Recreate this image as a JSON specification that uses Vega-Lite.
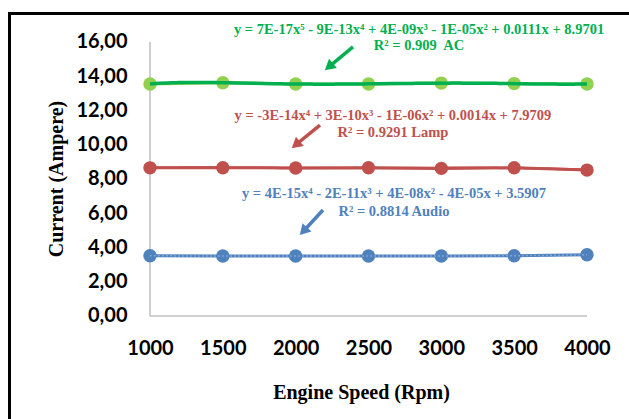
{
  "$schema": "https://vega.github.io/schema/vega-lite/v6.json",
  "width": 624.5,
  "height": 410.5,
  "autosize": {"type": "none"},
  "padding": {"left": 9.5, "top": 13.5, "right": -5, "bottom": -5},
  "background": "white",
  "config": {"view": {"stroke": "black", "strokeWidth": 3}},
  "datasets": {
    "series": [
      {"rpm": 1000, "current": 13.55, "load": "AC"},
      {"rpm": 1500, "current": 13.62, "load": "AC"},
      {"rpm": 2000, "current": 13.55, "load": "AC"},
      {"rpm": 2500, "current": 13.55, "load": "AC"},
      {"rpm": 3000, "current": 13.6, "load": "AC"},
      {"rpm": 3500, "current": 13.57, "load": "AC"},
      {"rpm": 4000, "current": 13.55, "load": "AC"},
      {"rpm": 1000, "current": 8.65, "load": "Lamp"},
      {"rpm": 1500, "current": 8.66, "load": "Lamp"},
      {"rpm": 2000, "current": 8.64, "load": "Lamp"},
      {"rpm": 2500, "current": 8.66, "load": "Lamp"},
      {"rpm": 3000, "current": 8.62, "load": "Lamp"},
      {"rpm": 3500, "current": 8.66, "load": "Lamp"},
      {"rpm": 4000, "current": 8.52, "load": "Lamp"},
      {"rpm": 1000, "current": 3.52, "load": "Audio"},
      {"rpm": 1500, "current": 3.5, "load": "Audio"},
      {"rpm": 2000, "current": 3.5, "load": "Audio"},
      {"rpm": 2500, "current": 3.5, "load": "Audio"},
      {"rpm": 3000, "current": 3.5, "load": "Audio"},
      {"rpm": 3500, "current": 3.52, "load": "Audio"},
      {"rpm": 4000, "current": 3.58, "load": "Audio"}
    ],
    "labels": [
      {"series": "AC fit", "x": 2847, "y": 16.7, "text": "y = 7E-17x⁵ - 9E-13x⁴ + 4E-09x³ - 1E-05x² + 0.0111x + 8.9701"},
      {"series": "AC fit", "x": 2847, "y": 15.77, "text": "R² = 0.909\u00a0 AC"},
      {"series": "Lamp", "x": 2668, "y": 11.68, "text": "y = -3E-14x⁴ + 3E-10x³ - 1E-06x² + 0.0014x + 7.9709"},
      {"series": "Lamp", "x": 2668, "y": 10.69, "text": "R² = 0.9291 Lamp"},
      {"series": "Audio", "x": 2675, "y": 7.12, "text": "y = 4E-15x⁴ - 2E-11x³ + 4E-08x² - 4E-05x + 3.5907"},
      {"series": "Audio", "x": 2675, "y": 6.07, "text": "R² = 0.8814 Audio"}
    ],
    "arrows": [
      {"series": "AC fit", "x": 2393.6, "y": 15.71, "x2": 2228, "y2": 14.55},
      {"series": "Lamp", "x": 2167, "y": 11.15, "x2": 2001, "y2": 10.0},
      {"series": "Audio", "x": 2187.6, "y": 6.19, "x2": 2053, "y2": 4.95}
    ]
  },
  "layer": [
    {
      "data": {"values": [{}]},
      "mark": {"type": "rule", "color": "#BFBFBF", "strokeWidth": 1.5},
      "encoding": {
        "x": {"datum": 1000, "type": "quantitative", "scale": {"domain": [35.5, 4322.7], "nice": false, "zero": false}},
        "y": {"datum": 0, "type": "quantitative", "scale": {"domain": [-6.307, 17.664], "nice": false, "zero": false}},
        "y2": {"datum": 16}
      }
    },
    {
      "data": {"values": [{}]},
      "mark": {"type": "rule", "color": "#BFBFBF", "strokeWidth": 1.5},
      "encoding": {
        "x": {"datum": 1000, "type": "quantitative"},
        "x2": {"datum": 4000},
        "y": {"datum": 0, "type": "quantitative"}
      }
    },
    {
      "data": {"name": "series"},
      "mark": {"type": "line", "strokeWidth": 3},
      "encoding": {
        "x": {
          "field": "rpm", "type": "quantitative",
          "scale": {"domain": [35.5, 4322.7], "nice": false, "zero": false},
          "axis": {
            "values": [1000, 1500, 2000, 2500, 3000, 3500, 4000],
            "format": "d",
            "offset": -108,
            "domain": false, "ticks": false, "grid": false,
            "labelFont": "Lato", "labelFontWeight": "bold", "labelFontSize": 20, "labelColor": "black",
            "labelPadding": 22,
            "title": "Engine Speed (Rpm)",
            "titleFont": "Liberation Serif", "titleFontWeight": "bold", "titleFontSize": 20, "titleColor": "black",
            "titlePadding": 24,
            "titleX": 351.5
          }
        },
        "y": {
          "field": "current", "type": "quantitative",
          "scale": {"domain": [-6.307, 17.664], "nice": false, "zero": false},
          "axis": {
            "values": [0, 2, 4, 6, 8, 10, 12, 14, 16],
            "labelExpr": "replace(format(datum.value, '.2f'), '.', ',')",
            "offset": -140.5,
            "domain": false, "ticks": false, "grid": false,
            "labelFont": "Lato", "labelFontWeight": "bold", "labelFontSize": 20, "labelColor": "black",
            "labelPadding": 23,
            "title": "Current (Ampere)",
            "titleFont": "Liberation Serif", "titleFontWeight": "bold", "titleFontSize": 20, "titleColor": "black",
            "titlePadding": 9,
            "titleY": 165
          }
        },
        "color": {
          "field": "load", "type": "nominal",
          "scale": {"domain": ["AC", "Lamp", "Audio", "AC fit"], "range": ["#92D050", "#C0504D", "#4F81BD", "#00B050"]},
          "legend": null
        },
        "detail": {"field": "load"}
      }
    },
    {
      "data": {"name": "series"},
      "mark": {"type": "point", "shape": "circle", "filled": true, "opacity": 1, "size": 180},
      "encoding": {
        "x": {"field": "rpm", "type": "quantitative"},
        "y": {"field": "current", "type": "quantitative"},
        "color": {"field": "load", "type": "nominal", "legend": null}
      }
    },
    {
      "data": {"name": "series"},
      "transform": [
        {"filter": "datum.load == 'AC'"},
        {"regression": "current", "on": "rpm", "method": "poly", "order": 5}
      ],
      "mark": {"type": "line", "color": "#00B050", "strokeWidth": 3.5},
      "encoding": {
        "x": {"field": "rpm", "type": "quantitative"},
        "y": {"field": "current", "type": "quantitative"}
      }
    },
    {
      "data": {"name": "series"},
      "transform": [
        {"filter": "datum.load == 'Lamp'"},
        {"regression": "current", "on": "rpm", "method": "poly", "order": 4}
      ],
      "mark": {"type": "line", "color": "#C0504D", "strokeWidth": 2.5},
      "encoding": {
        "x": {"field": "rpm", "type": "quantitative"},
        "y": {"field": "current", "type": "quantitative"}
      }
    },
    {
      "data": {"name": "series"},
      "transform": [
        {"filter": "datum.load == 'Audio'"},
        {"regression": "current", "on": "rpm", "method": "poly", "order": 4}
      ],
      "mark": {"type": "line", "color": "#7FA3D4", "strokeWidth": 1.5, "strokeDash": [2, 2]},
      "encoding": {
        "x": {"field": "rpm", "type": "quantitative"},
        "y": {"field": "current", "type": "quantitative"}
      }
    },
    {
      "data": {"name": "arrows"},
      "mark": {"type": "rule", "strokeWidth": 3.5},
      "encoding": {
        "x": {"field": "x", "type": "quantitative"},
        "y": {"field": "y", "type": "quantitative"},
        "x2": {"field": "x2"},
        "y2": {"field": "y2"},
        "color": {"field": "series", "type": "nominal", "legend": null}
      }
    },
    {
      "data": {"name": "arrows"},
      "transform": [{"filter": "datum.series != 'Audio'"}],
      "mark": {"type": "point", "shape": "triangle-up", "filled": true, "opacity": 1, "size": 150, "angle": 230},
      "encoding": {
        "x": {"field": "x2", "type": "quantitative"},
        "y": {"field": "y2", "type": "quantitative"},
        "color": {"field": "series", "type": "nominal", "legend": null}
      }
    },
    {
      "data": {"name": "arrows"},
      "transform": [{"filter": "datum.series == 'Audio'"}],
      "mark": {"type": "point", "shape": "triangle-up", "filled": true, "opacity": 1, "size": 150, "angle": 223},
      "encoding": {
        "x": {"field": "x2", "type": "quantitative"},
        "y": {"field": "y2", "type": "quantitative"},
        "color": {"field": "series", "type": "nominal", "legend": null}
      }
    },
    {
      "data": {"name": "labels"},
      "mark": {"type": "text", "font": "Liberation Serif", "fontWeight": "bold", "fontSize": 14.5, "align": "center", "baseline": "middle"},
      "encoding": {
        "x": {"field": "x", "type": "quantitative"},
        "y": {"field": "y", "type": "quantitative"},
        "text": {"field": "text"},
        "color": {"field": "series", "type": "nominal", "legend": null}
      }
    }
  ]
}
